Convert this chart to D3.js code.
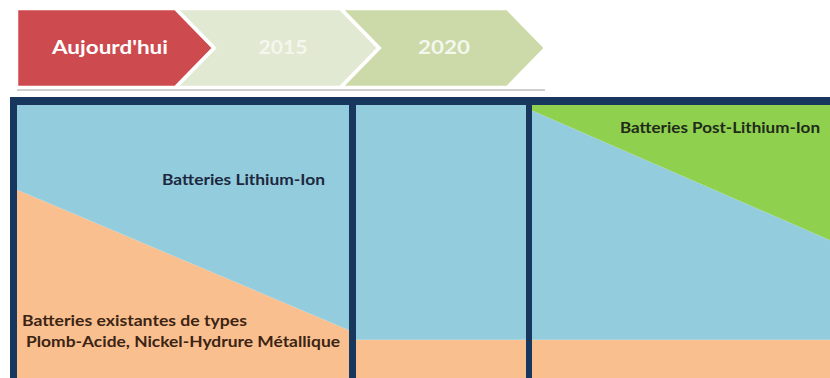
<!DOCTYPE html>
<html><head><meta charset="utf-8">
<script src="https://cdn.jsdelivr.net/npm/d3@7"></script>
<style>html,body{margin:0;padding:0;background:#fff;}svg{display:block;}</style>
</head><body>
<svg id="chart" width="830" height="378"></svg>
<script>
// ---- data ----
const periods = ["Aujourd'hui", "2015", "2020"];
// share (%) at start / end of each period
const existingShare = [[69, 17.5], [14, 14], [14, 14]];
const postLithiumShare = [[0, 0], [0, 0], [2, 49.5]];
const seriesKeys = ["existing", "lithium", "post"];
const seriesLabels = {
  existing: ["Batteries existantes de types", "Plomb-Acide, Nickel-Hydrure Métallique"],
  lithium: ["Batteries Lithium-Ion"],
  post: ["Batteries Post-Lithium-Ion"]
};

// ---- layout ----
const svg = d3.select("#chart");
const colors = { existing: "#fabf8f", lithium: "#93cddd", post: "#8fd14f" };
const navy = "#17375e";
const panelX = [[17, 349], [356, 526], [532, 830]];
const yScale = d3.scaleLinear().domain([0, 100]).range([378, 105]);
const stack = d3.stack().keys(seriesKeys);

// chevrons
const chevTop = 9, chevBot = 87, chevMid = 48, depth = 38;
const chev = [
  { x0: 17, x1: 175, notch: false, fill: "#cd4a4f" },
  { x0: 177, x1: 340, notch: true, fill: "#e1e9d2" },
  { x0: 342, x1: 507, notch: true, fill: "#cbdaa8" }
];
svg.append("line").attr("x1", 17).attr("x2", 545).attr("y1", 90).attr("y2", 90)
  .attr("stroke", "#cfcfcf").attr("stroke-width", 2);
const chevG = svg.append("g");
chevG.selectAll("path").data(chev.map((c, i) => ({ ...c, label: periods[i] })).reverse())
  .join("path")
  .attr("d", c => {
    const pts = [[c.x0, chevTop], [c.x1, chevTop], [c.x1 + depth, chevMid], [c.x1, chevBot], [c.x0, chevBot]];
    if (c.notch) pts.push([c.x0 + depth, chevMid]);
    return d3.line()(pts) + "Z";
  })
  .attr("fill", c => c.fill).attr("stroke", "#fff").attr("stroke-width", 2.5);
const chevText = [
  { cx: 110, w: 116, color: "#fff" },
  { cx: 283, w: 49, color: "#f4f7ee" },
  { cx: 444, w: 52, color: "#f4f7ee" }
];
svg.append("g").selectAll("text").data(periods).join("text")
  .attr("x", (d, i) => chevText[i].cx).attr("y", 54)
  .attr("text-anchor", "middle")
  .attr("font-family", "Lato, 'Open Sans', sans-serif").attr("font-weight", "bold")
  .attr("font-size", 18).attr("fill", (d, i) => chevText[i].color)
  .attr("textLength", (d, i) => chevText[i].w).attr("lengthAdjust", "spacingAndGlyphs")
  .text(d => d);

// panels
periods.forEach((p, i) => {
  const x = d3.scaleLinear().domain([0, 1]).range(panelX[i]);
  const rows = [0, 1].map(t => {
    const ex = existingShare[i][t], po = postLithiumShare[i][t];
    return { t, existing: ex, post: po, lithium: 100 - ex - po };
  });
  const layers = stack(rows);
  const area = d3.area().x(d => x(d.data.t)).y0(d => yScale(d[0])).y1(d => yScale(d[1]));
  svg.append("g").selectAll("path").data(layers).join("path")
    .attr("d", area).attr("fill", d => colors[d.key]);
});

// frame
svg.append("rect").attr("x", 10).attr("y", 97).attr("width", 820).attr("height", 8).attr("fill", navy);
svg.append("rect").attr("x", 10).attr("y", 97).attr("width", 7).attr("height", 281).attr("fill", navy);
[[349, 356], [526, 532]].forEach(([a, b]) => {
  svg.append("rect").attr("x", a).attr("y", 97).attr("width", b - a).attr("height", 281).attr("fill", navy);
});

// labels
const labelSpec = [
  { text: seriesLabels.lithium[0], x: 162, y: 185, w: 163, fill: "#1d2840" },
  { text: seriesLabels.existing[0], x: 22, y: 326, w: 225, fill: "#3b2414" },
  { text: seriesLabels.existing[1], x: 26, y: 347, w: 314, fill: "#3b2414" },
  { text: seriesLabels.post[0], x: 620, y: 133, w: 200, fill: "#1f2a1a" }
];
svg.append("g").selectAll("text").data(labelSpec).join("text")
  .attr("x", d => d.x).attr("y", d => d.y)
  .attr("font-family", "Lato, 'Open Sans', sans-serif").attr("font-weight", "bold")
  .attr("font-size", 15).attr("fill", d => d.fill)
  .attr("textLength", d => d.w).attr("lengthAdjust", "spacingAndGlyphs")
  .text(d => d.text);
</script>
</body></html>
